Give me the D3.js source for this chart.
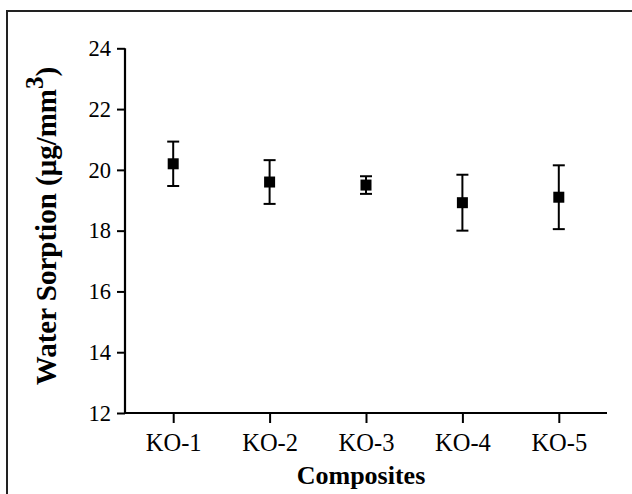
<!DOCTYPE html>
<html><head><meta charset="utf-8">
<script src="https://cdn.jsdelivr.net/npm/d3@7"></script>
<style>body{margin:0;background:#fff}svg{display:block}</style>
</head><body>
<svg id="c" width="632" height="494"></svg>
<script>
const categories = ["KO-1","KO-2","KO-3","KO-4","KO-5"];
const means = [20.2, 19.6, 19.5, 18.92, 19.1];
const errors = [0.73, 0.72, 0.29, 0.92, 1.05];
const yTicks = [12,14,16,18,20,22,24];

(function(){
const svg = d3.select("#c");
const mLeft = 125, mRight = 607, mTop = 48.3, mBottom = 413;
const font = "'Liberation Serif','Times New Roman',serif";

svg.append("rect").attr("x",7).attr("y",11).attr("width",700).attr("height",600)
  .attr("fill","none").attr("stroke","#222").attr("stroke-width",2);

const x = d3.scalePoint().domain(categories).range([mLeft,mRight]).padding(0.5);
const y = d3.scaleLinear().domain([12,24]).range([mBottom,mTop]);

const yAxis = svg.append("g").attr("transform",`translate(${mLeft},0)`)
  .call(d3.axisLeft(y).tickValues(yTicks).tickSize(8).tickPadding(6).tickSizeOuter(0));
const xAxis = svg.append("g").attr("transform",`translate(0,${mBottom})`)
  .call(d3.axisBottom(x).tickSize(10).tickPadding(11).tickSizeOuter(0));
[yAxis,xAxis].forEach(g=>{
  g.select(".domain").attr("stroke","#000").attr("stroke-width",2.2);
  g.selectAll(".tick line").attr("stroke","#000").attr("stroke-width",2);
  g.selectAll("text").attr("fill","#000").attr("font-family",font);
});
yAxis.selectAll("text").attr("font-size",22.5);
xAxis.selectAll("text").attr("font-size",24.5);
xAxis.select(".domain").attr("d",`M${mLeft-1},0H${mRight}`);
yAxis.select(".domain").attr("d",`M0,${mTop}V${mBottom+1}`);

const pts = svg.append("g");
categories.forEach((c,i)=>{
  const cx = x(c), m = means[i], e = errors[i];
  const g = pts.append("g").attr("stroke","#000").attr("stroke-width",2);
  g.append("line").attr("x1",cx).attr("x2",cx).attr("y1",y(m+e)).attr("y2",y(m-e));
  g.append("line").attr("x1",cx-6).attr("x2",cx+6).attr("y1",y(m+e)).attr("y2",y(m+e));
  g.append("line").attr("x1",cx-6).attr("x2",cx+6).attr("y1",y(m-e)).attr("y2",y(m-e));
  pts.append("rect").attr("x",cx-5.5).attr("y",y(m)-5.5).attr("width",11).attr("height",11).attr("fill","#000");
});

svg.append("text").attr("x",361).attr("y",484).attr("text-anchor","middle")
  .attr("font-family",font).attr("font-weight","bold").attr("font-size",26).attr("fill","#000")
  .text("Composites");

const yt = svg.append("text").attr("transform","translate(56,226) rotate(-90)")
  .attr("text-anchor","middle").attr("font-family",font).attr("font-weight","bold")
  .attr("font-size",29).attr("fill","#000");
yt.append("tspan").text("Water Sorption (μg/mm");
yt.append("tspan").attr("dy",-13).attr("font-size",25).text("3");
yt.append("tspan").attr("dy",13).text(")");
})();
</script>
</body></html>
